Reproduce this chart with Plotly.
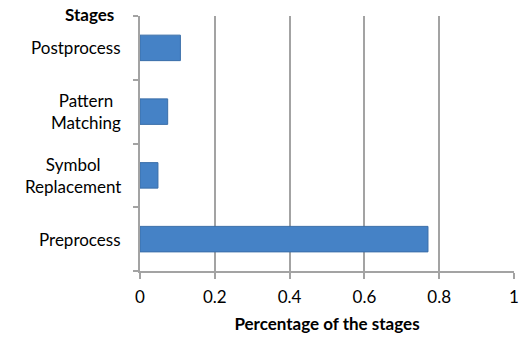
import plotly.graph_objects as go

stages = ["Preprocess", "Symbol Replacement", "Pattern Matching", "Postprocess"]
stage_labels = ["Preprocess", "Symbol<br>Replacement", "Pattern<br>Matching", "Postprocess"]
percentages = [0.77, 0.048, 0.074, 0.108]
x_ticks = [0, 0.2, 0.4, 0.6, 0.8, 1]
x_tick_text = ["0", "0.2", "0.4", "0.6", "0.8", "1"]

FONT = "Lato"
FS = 17
GRID = "#a3a3a3"

fig = go.Figure(go.Bar(
    y=stages, x=percentages, orientation="h", width=0.4,
    marker=dict(color="#4582C6", line=dict(color="#3A6EA8", width=1)),
))

annotations = []
for s, lab in zip(stages, stage_labels):
    annotations.append(dict(
        x=0, xref="paper", y=s, yref="y", xanchor="right", yanchor="middle",
        xshift=-17, text=lab, showarrow=False, align="center",
        font=dict(family=FONT, size=FS, color="#000"),
    ))
annotations.append(dict(
    x=0, xref="paper", y=1, yref="paper", xanchor="right", yanchor="middle",
    xshift=-24, yshift=2, text="<b>Stages</b>", showarrow=False,
    font=dict(family=FONT, size=FS, color="#000"),
))

fig.update_layout(
    width=524, height=337,
    margin=dict(l=140, r=10, t=16, b=66),
    paper_bgcolor="white", plot_bgcolor="white",
    showlegend=False,
    font=dict(family=FONT, size=FS, color="#000"),
    annotations=annotations,
)
fig.update_xaxes(
    range=[0, 1], tickvals=x_ticks, ticktext=x_tick_text,
    automargin=False,
    showgrid=True, gridcolor=GRID, gridwidth=1.5,
    showline=True, linecolor=GRID, linewidth=1.5,
    ticks="outside", ticklen=6, tickcolor=GRID, tickwidth=1.5,
    ticklabelstandoff=4,
    zeroline=False,
    title=dict(text="<b>Percentage of the stages</b>", font=dict(family=FONT, size=FS), standoff=12),
    tickfont=dict(family=FONT, size=FS),
)
fig.update_yaxes(
    type="category", categoryorder="array", categoryarray=stages,
    automargin=False,
    showticklabels=False, showgrid=False,
    showline=True, linecolor=GRID, linewidth=1.5,
    ticks="outside", tickson="boundaries", ticklen=5, tickcolor=GRID, tickwidth=1.5,
)

fig.write_html("out.html")
